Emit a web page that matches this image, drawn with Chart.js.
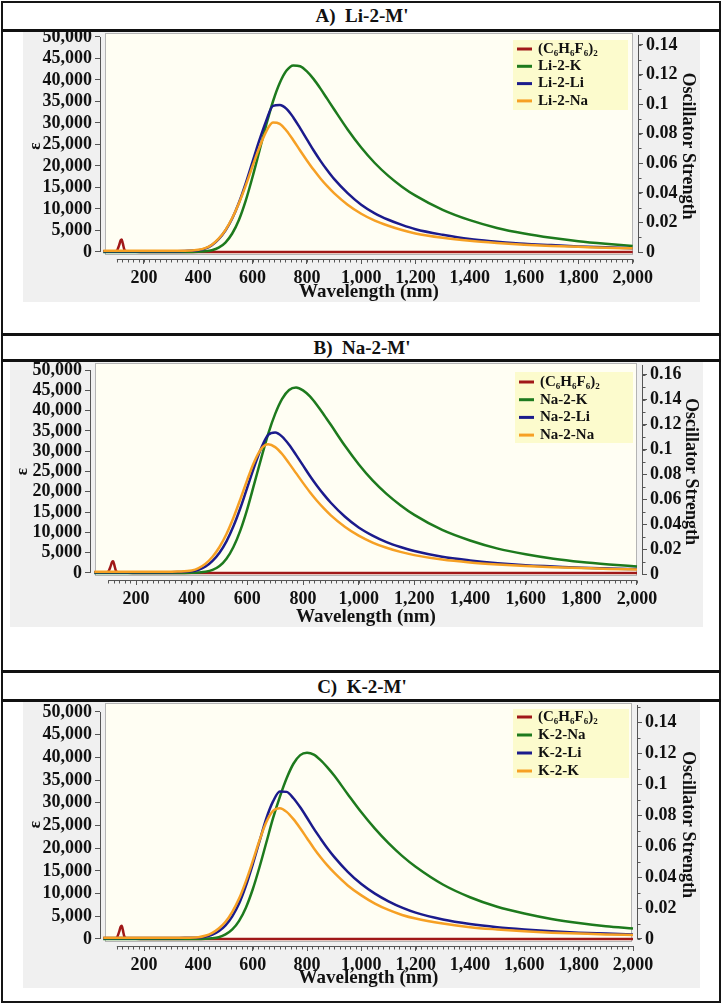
<!DOCTYPE html>
<html lang="en">
<head>
<meta charset="UTF-8">
<title>Absorption spectra M-2-M'</title>
<script src="https://cdn.jsdelivr.net/npm/chart.js"></script>
<style>
  body { margin: 0; background: #fff; }
  .page { position: relative; width: 724px; height: 1006px; overflow: hidden; }
  .frame { position: absolute; left: 1px; top: 1px; width: 720px; height: 1002px; border: 2px solid #151515; box-sizing: border-box; }
  .rule { position: absolute; left: 1px; width: 720px; height: 3px; background: #111; }
  .title { position: absolute; left: 0; width: 724px; height: 22px; line-height: 22px; text-align: center;
           font: bold 19px "Liberation Serif", serif; color: #111; white-space: pre; }
  .panel { position: absolute; background: #f0f0f0; }
</style>
</head>
<body>
<div class="page">
  <div class="frame"></div>
  <div class="title" style="top:5px">A)  Li-2-M'</div>
  <div class="rule" style="top:29px"></div>
  <div class="panel" style="left:23px;top:32px;width:677px;height:270px"><canvas id="chartA"></canvas></div>
  <div class="rule" style="top:333px"></div>
  <div class="title" style="top:337px">B)  Na-2-M'</div>
  <div class="rule" style="top:359px"></div>
  <div class="panel" style="left:10px;top:362px;width:693px;height:265px"><canvas id="chartB"></canvas></div>
  <div class="rule" style="top:670px"></div>
  <div class="title" style="top:676px">C)  K-2-M'</div>
  <div class="rule" style="top:699px"></div>
  <div class="panel" style="left:23px;top:702px;width:677px;height:286px"><canvas id="chartC"></canvas></div>
</div>

<script>
// wavelength grid (nm) shared by the broad bands
const wl = [50, 100, 150, 200, 250, 300, 350, 400, 425, 450, 475, 500, 525, 550, 575, 600, 625, 650, 675, 700,
            725, 750, 775, 800, 825, 850, 875, 900, 950, 1000, 1050, 1100, 1150, 1200, 1300, 1400, 1500, 1600,
            1700, 1800, 1900, 2000];

// (C6H6F6)2 has its own narrow band near 120 nm
const dimerWl  = [50, 90, 100, 108, 114, 118, 122, 128, 136, 150, 200, 400, 1000, 2000];
const dimerEps = [150, 150, 300, 1500, 2700, 2900, 2000, 500, 150, 100, 0, 0, 0, 0];

// A) Li-2-M'
const liLabels = ['(C₆H₆F₆)₂', 'Li-2-K', 'Li-2-Li', 'Li-2-Na'];
const liK  = [0, 0, 0, 0, 0, 0, 0, 50, 150, 400, 1000, 2200, 4300, 7500, 12000, 17500, 23500, 29500, 35000, 39300,
              42200, 43400, 43200, 42000, 40200, 38000, 35600, 33200, 28500, 24300, 20700, 17700, 15200, 13100,
              9800, 7400, 5600, 4300, 3300, 2500, 1900, 1400];
const liLi = [200, 200, 200, 200, 200, 200, 250, 400, 800, 1600, 3000, 5000, 7800, 11500, 16000, 21000, 26000, 30500, 34000, 34200,
              33300, 31300, 28800, 26200, 23600, 21200, 19000, 17000, 13700, 11000, 9000, 7500, 6300, 5300,
              4000, 3000, 2400, 1900, 1600, 1300, 1100, 900];
const liNa = [300, 300, 300, 300, 300, 300, 300, 500, 900, 1700, 3100, 5100, 7900, 11400, 15500, 20000, 24300, 28000, 30100, 29800,
              28200, 26000, 23600, 21300, 19100, 17100, 15300, 13700, 11000, 8900, 7300, 6100, 5100, 4300,
              3300, 2600, 2100, 1700, 1400, 1200, 1000, 850];

// B) Na-2-M'
const naLabels = ['(C₆H₆F₆)₂', 'Na-2-K', 'Na-2-Li', 'Na-2-Na'];
const naK  = [0, 0, 0, 0, 0, 0, 0, 50, 120, 300, 750, 1700, 3500, 6400, 10500, 15800, 22000, 28300, 34300, 39200,
              42900, 45100, 45700, 45000, 43500, 41400, 39000, 36500, 31400, 26800, 22800, 19500, 16700, 14300,
              10600, 8000, 6000, 4600, 3500, 2700, 2100, 1600];
const naLi = [200, 200, 200, 200, 200, 200, 250, 400, 800, 1600, 3000, 5000, 7800, 11500, 16000, 21100, 26200, 30800, 34000, 34600,
              33600, 31600, 29100, 26500, 23900, 21500, 19300, 17300, 13900, 11200, 9200, 7600, 6400, 5400,
              4000, 3100, 2400, 1900, 1600, 1300, 1100, 950];
const naNa = [300, 300, 300, 300, 300, 300, 350, 600, 1200, 2300, 4000, 6400, 9600, 13600, 18200, 23000, 27400, 30600, 31700, 31000,
              29300, 27000, 24600, 22200, 19900, 17800, 15900, 14200, 11400, 9200, 7500, 6200, 5200, 4400,
              3300, 2600, 2100, 1700, 1400, 1200, 1000, 850];

// C) K-2-M'
const kLabels = ['(C₆H₆F₆)₂', 'K-2-Na', 'K-2-Li', 'K-2-K'];
const kNa = [0, 0, 0, 0, 0, 0, 0, 0, 50, 150, 400, 1000, 2100, 4000, 6900, 10900, 15800, 21200, 26600, 31300,
             35400, 38600, 40500, 41000, 40600, 39400, 37800, 36000, 31900, 27900, 24300, 21100, 18300, 15900,
             12000, 9200, 7100, 5600, 4400, 3500, 2800, 2300];
const kLi = [200, 200, 200, 200, 200, 200, 250, 300, 500, 900, 1700, 3000, 5000, 7800, 11700, 16400, 21500, 26500, 30300, 32500,
             32400, 31000, 29000, 26700, 24300, 22100, 20000, 18100, 14800, 12100, 10000, 8300, 6900, 5800,
             4300, 3300, 2600, 2100, 1700, 1400, 1200, 1000];
const kK  = [300, 300, 300, 300, 300, 300, 300, 400, 700, 1300, 2300, 3800, 6000, 8900, 12700, 17100, 21700, 25700, 28200, 28800,
             28000, 26400, 24400, 22200, 20000, 18000, 16200, 14600, 11800, 9600, 7800, 6400, 5300, 4500,
             3400, 2600, 2100, 1700, 1400, 1200, 1000, 900];

// axis ticks
const wlTicks   = [200, 400, 600, 800, 1000, 1200, 1400, 1600, 1800, 2000];
const epsTicks  = [0, 5000, 10000, 15000, 20000, 25000, 30000, 35000, 40000, 45000, 50000];
const oscTicks14 = [0, 0.02, 0.04, 0.06, 0.08, 0.1, 0.12, 0.14];
const oscTicks16 = [0, 0.02, 0.04, 0.06, 0.08, 0.1, 0.12, 0.14, 0.16];

const colors = ['#a01818', '#1d7a1d', '#1b1b8c', '#f6a024'];
const serif = '"Liberation Serif", "Times New Roman", serif';
const ink = '#111';

// cream plot area, inset a little from the axis lines
const plotBg = {
  id: 'plotBg',
  beforeDatasetsDraw(chart, args, o) {
    const a = chart.chartArea, ctx = chart.ctx;
    const x = a.left + o.inset, w = a.right - o.inset - x, h = a.bottom - o.insetBottom - a.top;
    ctx.save();
    ctx.fillStyle = '#fffef3';
    ctx.fillRect(x, a.top, w, h);
    ctx.strokeStyle = '#b4b4b4';
    ctx.lineWidth = 1;
    ctx.strokeRect(x + 0.5, a.top + 0.5, w - 1, h - 1);
    ctx.restore();
  }
};

// axis lines running between the outer ticks, plus short minor ticks
const axisLines = {
  id: 'axisLines',
  afterDraw(chart) {
    const ctx = chart.ctx;
    ctx.save();
    ctx.strokeStyle = '#555';
    ctx.lineWidth = 1;
    Object.values(chart.scales).forEach(s => {
      const o = s.options;
      const minor = [];
      if (o.minorStep) {
        const n = Math.round((o.minorTo - o.minorFrom) / o.minorStep);
        for (let k = 0; k <= n; k++) minor.push(o.minorFrom + k * o.minorStep);
      }
      const px = s.ticks.map(t => t.value).concat(minor).map(v => s.getPixelForValue(v));
      let a = Math.min(...px), b = Math.max(...px);
      ctx.beginPath();
      if (s.isHorizontal()) {
        const y = s.top + 0.5;
        ctx.moveTo(a, y); ctx.lineTo(b, y);
        minor.forEach(v => { const x = Math.round(s.getPixelForValue(v)) + 0.5; ctx.moveTo(x, y); ctx.lineTo(x, y + 3); });
      } else {
        const left = s.position === 'left';
        const x = (left ? s.right : s.left) + 0.5;
        if (o.lineTop) a = chart.chartArea.top + o.lineTop;
        ctx.moveTo(x, a); ctx.lineTo(x, b);
        minor.forEach(v => { const y = Math.round(s.getPixelForValue(v)) + 0.5; ctx.moveTo(x, y); ctx.lineTo(x + (left ? -3 : 3), y); });
      }
      ctx.stroke();
    });
    ctx.restore();
  }
};

// legend box in the upper right of the plot
const boxLegend = {
  id: 'boxLegend',
  afterDatasetsDraw(chart, args, o) {
    const ctx = chart.ctx;
    ctx.save();
    ctx.fillStyle = '#fcfbcd';
    ctx.fillRect(o.x, o.y, o.w, o.h);
    ctx.font = 'bold 15px ' + serif;
    ctx.textBaseline = 'middle';
    chart.data.datasets.forEach((ds, i) => {
      const y = o.y + o.first + i * o.gap;
      ctx.strokeStyle = ds.borderColor;
      ctx.lineWidth = 3;
      ctx.beginPath();
      ctx.moveTo(o.x + 4, y); ctx.lineTo(o.x + 19, y);
      ctx.stroke();
      ctx.fillStyle = ink;
      ctx.fillText(ds.label, o.x + 25, y);
    });
    ctx.restore();
  }
};

function makeChart(id, labels, series, oscTicks, L) {
  const datasets = series.map((s, i) => ({
    label: labels[i],
    data: s[0].map((x, j) => ({ x: x, y: s[1][j] })),
    borderColor: colors[i],
    backgroundColor: colors[i],
    borderWidth: 2.5,
    pointRadius: 0,
    cubicInterpolationMode: 'monotone',
    order: 3 - i,
    yAxisID: 'y'
  }));
  const tickFont = { family: serif, size: 18, weight: 'bold', lineHeight: 1 };
  return new Chart(document.getElementById(id), {
    type: 'line',
    data: { datasets: datasets },
    plugins: [plotBg, axisLines, boxLegend],
    options: {
      responsive: true,
      maintainAspectRatio: false,
      animation: false,
      layout: { padding: { top: L.padTop, left: 0, right: 0, bottom: 0 } },
      plugins: {
        legend: { display: false },
        tooltip: { enabled: false },
        plotBg: { inset: 5, insetBottom: 4 },
        boxLegend: L.legend
      },
      scales: {
        x: {
          type: 'linear',
          min: L.wlMin, max: L.wlMax,
          minorStep: 20, minorFrom: 100, minorTo: 2000,
          afterBuildTicks: s => { s.ticks = wlTicks.map(v => ({ value: v })); },
          afterFit: s => { s.height = L.bottomH; s.paddingLeft = 0; s.paddingRight = 0; },
          border: { display: false },
          grid: { drawOnChartArea: false, tickLength: 5, color: '#555' },
          ticks: { font: tickFont, color: ink, padding: 5, maxRotation: 0, autoSkip: false,
                   callback: v => v.toLocaleString('en-US') },
          title: { display: true, text: 'Wavelength (nm)', color: ink, padding: 0,
                   font: { family: serif, size: 19, weight: 'bold', lineHeight: 1.05 } }
        },
        y: {
          position: 'left',
          min: L.epsMin, max: L.epsMax,
          afterBuildTicks: s => { s.ticks = epsTicks.map(v => ({ value: v })); },
          afterFit: s => { s.width = L.leftW; s.paddingTop = 0; s.paddingBottom = 0; },
          border: { display: false },
          grid: { drawOnChartArea: false, tickLength: 5, color: '#555' },
          ticks: { font: tickFont, color: ink, padding: 3, autoSkip: false,
                   callback: v => v.toLocaleString('en-US') },
          title: { display: true, text: 'ε', color: ink, padding: { top: 2, bottom: 0 },
                   font: { family: serif, size: 17, weight: 'bold' } }
        },
        y2: {
          position: 'right',
          min: L.oscMin, max: L.oscMax,
          minorStep: 0.01, minorFrom: 0, minorTo: L.oscTop, lineTop: 2,
          afterBuildTicks: s => { s.ticks = oscTicks.map(v => ({ value: v })); },
          afterFit: s => { s.width = L.rightW; s.paddingTop = 0; s.paddingBottom = 0; },
          border: { display: false },
          grid: { drawOnChartArea: false, tickLength: 5, color: '#555' },
          ticks: { font: tickFont, color: ink, padding: 3, autoSkip: false, callback: v => String(v) },
          title: { display: true, text: 'Oscillator Strength', color: ink, padding: { top: 2, bottom: 0 },
                   font: { family: serif, size: 18, weight: 'bold' } }
        }
      }
    }
  });
}

makeChart('chartA', liLabels,
  [[dimerWl, dimerEps], [wl, liK], [wl, liLi], [wl, liNa]], oscTicks14,
  { padTop: 1, leftW: 77, rightW: 62, bottomH: 43,
    wlMin: 38, wlMax: 2019.5, epsMin: -1628, epsMax: 50930, oscMin: -0.00473, oscMax: 0.1481, oscTop: 0.14,
    legend: { x: 490, y: 8, w: 115, h: 70, first: 9, gap: 17.3 } });

makeChart('chartB', naLabels,
  [[dimerWl, dimerEps], [wl, naK], [wl, naLi], [wl, naNa]], oscTicks16,
  { padTop: 1, leftW: 80, rightW: 61, bottomH: 47,
    wlMin: 34.7, wlMax: 2018, epsMin: -1733, epsMax: 51733, oscMin: -0.0048, oscMax: 0.1695, oscTop: 0.16,
    legend: { x: 505, y: 10, w: 118, h: 71, first: 10, gap: 17.7 } });

makeChart('chartC', kLabels,
  [[dimerWl, dimerEps], [wl, kNa], [wl, kLi], [wl, kK]], oscTicks14,
  { padTop: 1, leftW: 77, rightW: 63, bottomH: 42,
    wlMin: 38, wlMax: 2014.7, epsMin: -1542, epsMax: 51980, oscMin: -0.00452, oscMax: 0.1523, oscTop: 0.15,
    legend: { x: 490, y: 7, w: 116, h: 69, first: 8, gap: 18 } });
</script>
</body>
</html>
